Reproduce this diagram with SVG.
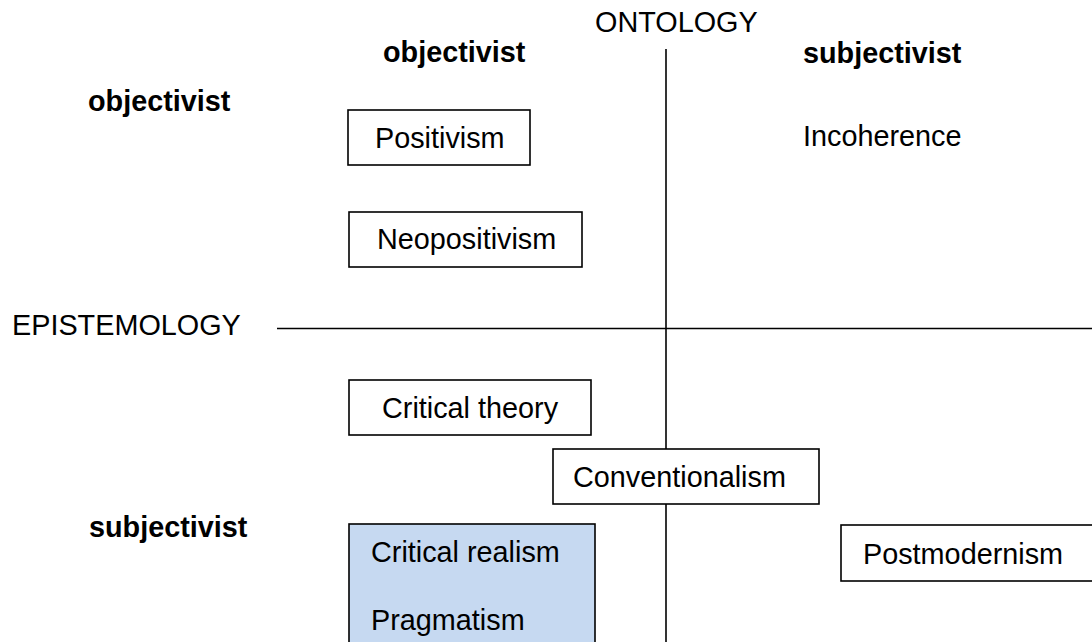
<svg xmlns="http://www.w3.org/2000/svg" width="1092" height="642" viewBox="0 0 1092 642">
<style>
text{font-family:"Liberation Sans",Arial,sans-serif;font-size:28.8px;fill:#000}
.b{font-weight:bold}
.box{fill:#fff;stroke:#000;stroke-width:1.6}
.blue{fill:#C6D9F1;stroke:#000;stroke-width:1.6}
.ax{stroke:#000;stroke-width:1.6;fill:none}
</style>
<rect width="1092" height="642" fill="#fff"/>
<g id="connectors">
<line class="ax" x1="666" y1="49" x2="666" y2="642"/>
<line class="ax" x1="277" y1="328.5" x2="1092" y2="328.5"/>
</g>
<g id="labels">
<text x="595" y="32">ONTOLOGY</text>
<text x="12" y="335">EPISTEMOLOGY</text>
<text class="b" x="383" y="62">objectivist</text>
<text class="b" x="803" y="63">subjectivist</text>
<text class="b" x="88" y="111">objectivist</text>
<text class="b" x="89" y="537">subjectivist</text>
<text x="803" y="146">Incoherence</text>
</g>
<g id="positivism"><rect class="box" x="348" y="110" width="182" height="55"/><text x="375" y="148">Positivism</text></g>
<g id="neopositivism"><rect class="box" x="349" y="212" width="233" height="55"/><text x="377" y="249">Neopositivism</text></g>
<g id="critical-theory"><rect class="box" x="349" y="380" width="242" height="55"/><text x="382" y="418">Critical theory</text></g>
<g id="conventionalism"><rect class="box" x="553" y="449" width="266" height="55"/><text x="573" y="487">Conventionalism</text></g>
<g id="realism-pragmatism"><rect class="blue" x="349" y="524" width="246" height="130"/><text x="371" y="562">Critical realism</text><text x="371" y="630">Pragmatism</text></g>
<g id="postmodernism"><rect class="box" x="841" y="525" width="260" height="56"/><text x="863" y="564">Postmodernism</text></g>
</svg>
